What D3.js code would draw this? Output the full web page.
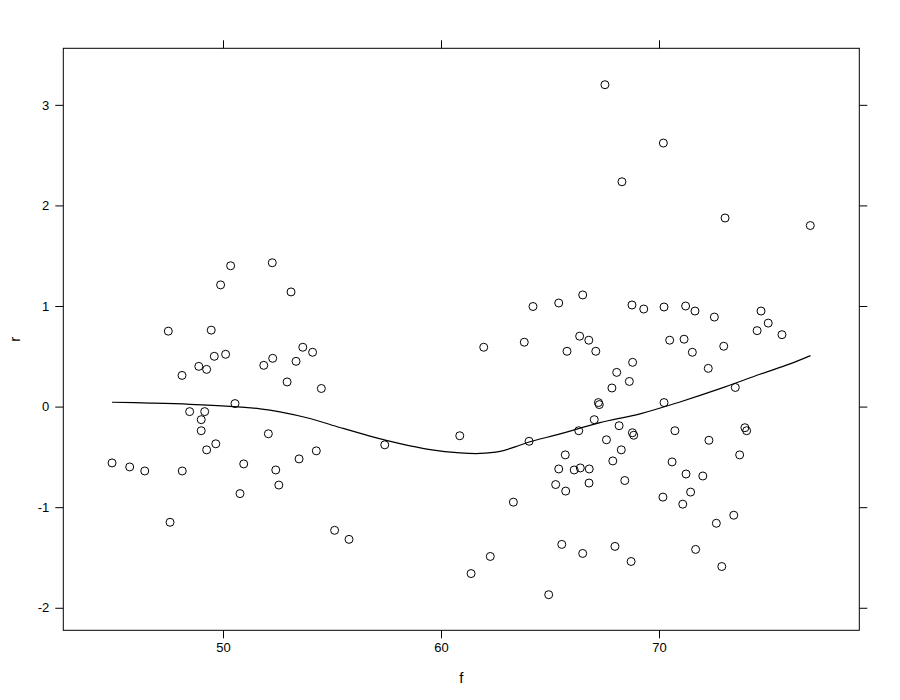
<!DOCTYPE html>
<html>
<head>
<meta charset="utf-8">
<script src="https://cdn.jsdelivr.net/npm/d3@7"></script>
<style>
  html, body { margin: 0; padding: 0; background: #fff; }
  text { font-family: "Liberation Sans", Arial, Helvetica, sans-serif; fill: #000; }
</style>
</head>
<body>
<svg id="chart" width="900" height="700"></svg>
<script>
// ---- Data ----
const fValues = [
  44.91, 45.72, 46.41, 47.49, 47.57, 48.12, 48.13, 48.47, 48.89, 49.00,
  49.00, 49.16, 49.25, 49.25, 49.46, 49.60, 49.67, 49.89, 50.12, 50.35,
  50.55, 50.78, 50.95, 51.87, 52.08, 52.26, 52.28, 52.42, 52.56, 52.94,
  53.12, 53.35, 53.49, 53.66, 54.11, 54.28, 54.51, 55.12, 55.78, 57.42,
  60.86, 61.96, 61.38, 62.26,
  63.32, 64.04, 63.82, 64.22, 65.40, 66.50, 68.76, 66.36, 66.78, 65.78,
  67.10, 68.79, 68.06, 68.64, 67.84, 67.22, 67.26, 67.03, 68.17, 66.32,
  68.78, 68.84, 67.59, 65.70, 68.27, 67.88, 65.40, 66.11, 66.39, 66.80,
  66.79, 65.26, 65.72, 68.43, 65.54, 66.50, 67.98, 68.72, 64.94, 67.52,
  68.30, 70.20, 73.03, 76.94, 69.30, 70.23, 71.22, 71.65, 72.54, 74.68,
  74.50, 75.01, 75.64, 70.49, 71.15, 71.53, 72.97, 72.26, 73.50, 70.23,
  70.73, 72.29, 73.94, 74.02, 73.70, 70.60, 71.24, 72.01, 71.45, 70.18,
  71.09, 73.43, 72.63, 71.68, 72.88
];
const rValues = [
  -0.56, -0.60, -0.64, 0.75, -1.15, 0.31, -0.64, -0.05, 0.40, -0.13,
  -0.24, -0.05, 0.37, -0.43, 0.76, 0.50, -0.37, 1.21, 0.52, 1.40,
  0.03, -0.865, -0.57, 0.41, -0.27, 1.43, 0.48, -0.63, -0.78, 0.245,
  1.14, 0.45, -0.52, 0.59, 0.54, -0.44, 0.18, -1.23, -1.32, -0.38,
  -0.29, 0.59, -1.66, -1.49,
  -0.95, -0.345, 0.64, 0.995, 1.03, 1.11, 1.01, 0.70, 0.66, 0.55,
  0.55, 0.44, 0.34, 0.25, 0.185, 0.04, 0.02, -0.13, -0.19, -0.24,
  -0.26, -0.285, -0.33, -0.48, -0.43, -0.54, -0.62, -0.63, -0.61, -0.62,
  -0.76, -0.775, -0.84, -0.735, -1.37, -1.46, -1.39, -1.54, -1.87, 3.20,
  2.235, 2.62, 1.875, 1.80, 0.97, 0.99, 1.00, 0.95, 0.89, 0.95,
  0.755, 0.83, 0.715, 0.66, 0.67, 0.54, 0.60, 0.38, 0.19, 0.04,
  -0.24, -0.335, -0.21, -0.24, -0.48, -0.55, -0.67, -0.69, -0.85, -0.90,
  -0.97, -1.08, -1.16, -1.42, -1.59
];
// Smoother (loess) curve
const smoothF = [
  44.91, 46.65, 48.49, 50.32, 51.70, 52.61, 53.99, 55.37, 56.74, 58.12,
  59.50, 60.87, 61.79, 62.71, 63.40, 64.08, 65.46, 67.29, 69.13, 70.96,
  72.80, 74.63, 76.01, 76.95
];
const smoothR = [
  0.043, 0.035, 0.023, 0.003, -0.022, -0.052, -0.118, -0.208, -0.293, -0.368,
  -0.427, -0.460, -0.466, -0.445, -0.400, -0.350, -0.272, -0.160, -0.072, 0.046,
  0.178, 0.321, 0.425, 0.507
];
const xTicks = [50, 60, 70];
const yTicks = [-2, -1, 0, 1, 2, 3];
const xLabel = "f";
const yLabel = "r";

// ---- Layout ----
const svg = d3.select("#chart");
const pLeft = 63.3, pRight = 859.3, pTop = 48.3, pBottom = 630.3;
const x = d3.scaleLinear().domain([42.674, 79.188]).range([pLeft, pRight]);
const y = d3.scaleLinear().domain([-2.224, 3.562]).range([pBottom, pTop]);

const g = svg.append("g");

// Points
g.selectAll("circle.pt")
  .data(fValues.map((f, i) => [f, rValues[i]]))
  .join("circle")
  .attr("class", "pt")
  .attr("cx", d => x(d[0]))
  .attr("cy", d => y(d[1]))
  .attr("r", 4)
  .attr("fill", "none")
  .attr("stroke", "#000")
  .attr("stroke-width", 1);

// Smooth line
g.append("path")
  .datum(smoothF.map((f, i) => [f, smoothR[i]]))
  .attr("fill", "none")
  .attr("stroke", "#000")
  .attr("stroke-width", 1.2)
  .attr("d", d3.line().x(d => x(d[0])).y(d => y(d[1])).curve(d3.curveCatmullRom.alpha(0.5)));

// Axes (lattice style: ticks outside, labels bottom & left)
const tickLen = 8;
const axB = svg.append("g").attr("transform", `translate(0,${pBottom})`)
  .call(d3.axisBottom(x).tickValues(xTicks).tickSize(tickLen).tickPadding(4).tickFormat(d3.format("d")));
const axT = svg.append("g").attr("transform", `translate(0,${pTop})`)
  .call(d3.axisTop(x).tickValues(xTicks).tickSize(tickLen).tickFormat(""));
const axL = svg.append("g").attr("transform", `translate(${pLeft},0)`)
  .call(d3.axisLeft(y).tickValues(yTicks).tickSize(tickLen).tickPadding(6).tickFormat(d3.format("d")));
const axR = svg.append("g").attr("transform", `translate(${pRight},0)`)
  .call(d3.axisRight(y).tickValues(yTicks).tickSize(tickLen).tickFormat(""));

[axB, axT, axL, axR].forEach(a => {
  a.select(".domain").remove();
  a.selectAll(".tick line").attr("stroke", "#000").attr("stroke-width", 1);
  a.selectAll(".tick text").attr("font-size", 13).attr("fill", "#000")
    .style("font-family", "'Liberation Sans', Arial, sans-serif");
});
axL.selectAll(".tick text").text(d => d < 0 ? "-" + Math.abs(d) : d);

// Panel border
svg.append("rect")
  .attr("x", pLeft).attr("y", pTop)
  .attr("width", pRight - pLeft).attr("height", pBottom - pTop)
  .attr("fill", "none").attr("stroke", "#000").attr("stroke-width", 1);

// Axis titles
svg.append("text")
  .attr("x", (pLeft + pRight) / 2).attr("y", 683)
  .attr("text-anchor", "middle").attr("font-size", 15)
  .text(xLabel);
svg.append("text")
  .attr("transform", `translate(20,${(pTop + pBottom) / 2}) rotate(-90)`)
  .attr("text-anchor", "middle").attr("font-size", 15)
  .text(yLabel);
</script>
</body>
</html>
